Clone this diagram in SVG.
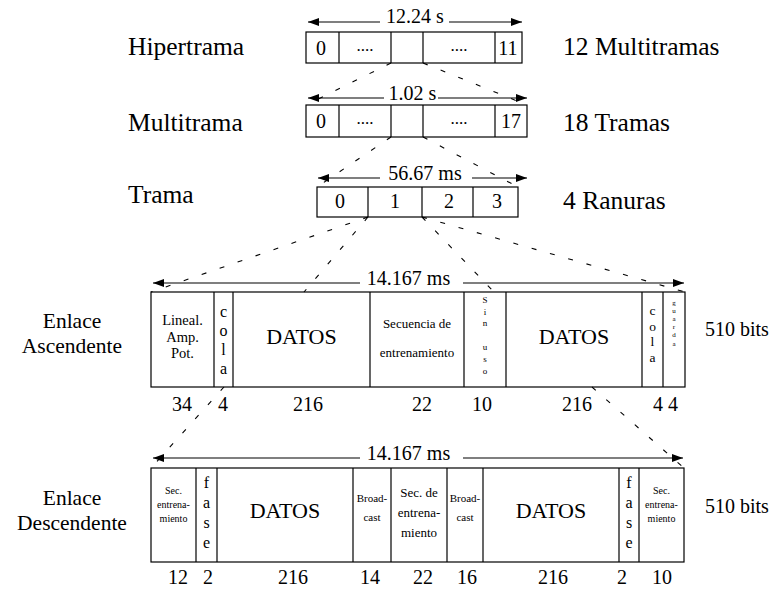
<svg xmlns="http://www.w3.org/2000/svg" width="776" height="590" viewBox="0 0 776 590">
<style>
text{font-family:"Liberation Serif","Times New Roman",serif;fill:#000}
.lbl{font-size:25.5px}
.m{text-anchor:middle}
.d{font-size:20px;text-anchor:middle}
.big{font-size:22px;text-anchor:middle}
.box{fill:#fff;stroke:#000;stroke-width:1.2}
.div{stroke:#000;stroke-width:1.2}
.arr{stroke:#000;stroke-width:1.2;fill:none}
.dash{stroke:#000;stroke-width:1.1;stroke-dasharray:5 14;fill:none}
</style>
<defs>
<marker id="ah" markerUnits="userSpaceOnUse" markerWidth="12" markerHeight="8" refX="11" refY="4" orient="auto-start-reverse">
<path d="M0,0 L11,4 L0,8 z" fill="#000"/>
</marker>
</defs>

<g id="labels">
<text class="lbl" x="128" y="55">Hipertrama</text>
<text class="lbl" x="128" y="131">Multitrama</text>
<text class="lbl" x="128" y="203">Trama</text>
<text class="lbl" x="563" y="55">12 Multitramas</text>
<text class="lbl" x="563" y="131">18 Tramas</text>
<text class="lbl" x="563" y="209">4 Ranuras</text>
<text class="m" style="font-size:21.5px" x="72" y="328">Enlace</text>
<text class="m" style="font-size:21.5px" x="72" y="353">Ascendente</text>
<text class="m" style="font-size:21.5px" x="72" y="505">Enlace</text>
<text class="m" style="font-size:21.5px" x="72" y="530">Descendente</text>
<text style="font-size:20px" x="705" y="336">510 bits</text>
<text style="font-size:20px" x="705" y="513">510 bits</text>
</g>

<g id="hipertrama">
<rect class="box" x="306" y="32" width="216" height="31"/>
<line class="div" x1="339" y1="32" x2="339" y2="63"/>
<line class="div" x1="391" y1="32" x2="391" y2="63"/>
<line class="div" x1="423" y1="32" x2="423" y2="63"/>
<line class="div" x1="495" y1="32" x2="495" y2="63"/>
<text class="d" x="321" y="55">0</text>
<text class="d" style="font-size:17px" x="365" y="51">....</text>
<text class="d" style="font-size:17px" x="459" y="51">....</text>
<text class="d" x="508" y="55">11</text>
<line class="arr" x1="308" y1="22" x2="380" y2="22" marker-start="url(#ah)"/>
<text class="d" x="415" y="23">12.24 s</text>
<line class="arr" x1="449" y1="22" x2="522" y2="22" marker-end="url(#ah)"/>
</g>

<g id="multitrama">
<rect class="box" x="306" y="105" width="221" height="32"/>
<line class="div" x1="339" y1="105" x2="339" y2="137"/>
<line class="div" x1="391" y1="105" x2="391" y2="137"/>
<line class="div" x1="423" y1="105" x2="423" y2="137"/>
<line class="div" x1="495" y1="105" x2="495" y2="137"/>
<text class="d" x="321" y="128">0</text>
<text class="d" style="font-size:17px" x="365" y="124">....</text>
<text class="d" style="font-size:17px" x="459" y="124">....</text>
<text class="d" x="511" y="128">17</text>
<line class="arr" x1="308" y1="98" x2="384" y2="98" marker-start="url(#ah)"/>
<text class="d" x="412.5" y="100">1.02 s</text>
<line class="arr" x1="438" y1="98" x2="527" y2="98" marker-end="url(#ah)"/>
</g>

<g id="trama">
<rect class="box" x="317" y="187" width="201" height="30"/>
<line class="div" x1="368" y1="187" x2="368" y2="217"/>
<line class="div" x1="422" y1="187" x2="422" y2="217"/>
<line class="div" x1="473" y1="187" x2="473" y2="217"/>
<text class="d" x="340" y="208">0</text>
<text class="d" x="395" y="208">1</text>
<text class="d" x="449" y="208">2</text>
<text class="d" x="497" y="208">3</text>
<line class="arr" x1="318" y1="178" x2="380" y2="178" marker-start="url(#ah)"/>
<text class="d" x="425" y="180">56.67 ms</text>
<line class="arr" x1="472" y1="178" x2="527" y2="178" marker-end="url(#ah)"/>
</g>

<g id="uplink">
<rect class="box" x="151" y="292" width="534" height="95"/>
<line class="div" x1="214" y1="292" x2="214" y2="387"/>
<line class="div" x1="233" y1="292" x2="233" y2="387"/>
<line class="div" x1="370" y1="292" x2="370" y2="387"/>
<line class="div" x1="464" y1="292" x2="464" y2="387"/>
<line class="div" x1="506" y1="292" x2="506" y2="387"/>
<line class="div" x1="642" y1="292" x2="642" y2="387"/>
<line class="div" x1="663" y1="292" x2="663" y2="387"/>
<line class="arr" x1="153" y1="283" x2="360" y2="283" marker-start="url(#ah)"/>
<text class="d" x="408.5" y="285">14.167 ms</text>
<line class="arr" x1="463" y1="283" x2="684" y2="283" marker-end="url(#ah)"/>
<text class="m" style="font-size:14.5px" x="182.5" y="325">Lineal.</text>
<text class="m" style="font-size:14.5px" x="182.5" y="341.5">Amp.</text>
<text class="m" style="font-size:14.5px" x="182.5" y="358">Pot.</text>
<text class="m" style="font-size:16px" x="223.5" y="317"><tspan x="223.5">c</tspan><tspan x="223.5" dy="19">o</tspan><tspan x="223.5" dy="19">l</tspan><tspan x="223.5" dy="19">a</tspan></text>
<text class="big" x="301.5" y="344">DATOS</text>
<text class="m" style="font-size:13px" x="417" y="328">Secuencia de</text>
<text class="m" style="font-size:13px" x="417" y="357">entrenamiento</text>
<text class="m" style="font-size:9px" x="485" y="303"><tspan x="485">S</tspan><tspan x="485" dy="12">i</tspan><tspan x="485" dy="11">n</tspan><tspan x="485" dy="24">u</tspan><tspan x="485" dy="12">s</tspan><tspan x="485" dy="12">o</tspan></text>
<text class="big" x="574" y="344">DATOS</text>
<text class="m" style="font-size:13.5px" x="652.5" y="315"><tspan x="652.5">c</tspan><tspan x="652.5" dy="15.6">o</tspan><tspan x="652.5" dy="15.6">l</tspan><tspan x="652.5" dy="15.6">a</tspan></text>
<text class="m" style="font-size:7px" x="674" y="305"><tspan x="674">g</tspan><tspan x="674" dy="8.1">u</tspan><tspan x="674" dy="8.1">a</tspan><tspan x="674" dy="8.1">r</tspan><tspan x="674" dy="8.1">d</tspan><tspan x="674" dy="8.1">a</tspan></text>
<text class="d" x="182" y="411">34</text>
<text class="d" x="223" y="411">4</text>
<text class="d" x="308" y="411">216</text>
<text class="d" x="422" y="411">22</text>
<text class="d" x="482" y="411">10</text>
<text class="d" x="577" y="411">216</text>
<text class="d" x="658" y="411">4</text>
<text class="d" x="673" y="411">4</text>
</g>

<g id="downlink">
<rect class="box" x="151" y="468" width="533" height="94"/>
<line class="div" x1="196" y1="468" x2="196" y2="562"/>
<line class="div" x1="217" y1="468" x2="217" y2="562"/>
<line class="div" x1="353" y1="468" x2="353" y2="562"/>
<line class="div" x1="391" y1="468" x2="391" y2="562"/>
<line class="div" x1="447" y1="468" x2="447" y2="562"/>
<line class="div" x1="483" y1="468" x2="483" y2="562"/>
<line class="div" x1="619" y1="468" x2="619" y2="562"/>
<line class="div" x1="639" y1="468" x2="639" y2="562"/>
<line class="arr" x1="153" y1="458" x2="360" y2="458" marker-start="url(#ah)"/>
<text class="d" x="408.5" y="460">14.167 ms</text>
<line class="arr" x1="463" y1="458" x2="683" y2="458" marker-end="url(#ah)"/>
<text class="m" style="font-size:10px" x="173.5" y="494">Sec.</text>
<text class="m" style="font-size:10px" x="173.5" y="508">entrena-</text>
<text class="m" style="font-size:10px" x="173.5" y="522">miento</text>
<text class="m" style="font-size:16px" x="206.5" y="488"><tspan x="206.5">f</tspan><tspan x="206.5" dy="19.5">a</tspan><tspan x="206.5" dy="20">s</tspan><tspan x="206.5" dy="20">e</tspan></text>
<text class="big" x="285" y="518">DATOS</text>
<text class="m" style="font-size:11px" x="372" y="502">Broad-</text>
<text class="m" style="font-size:11px" x="372" y="521">cast</text>
<text class="m" style="font-size:13px" x="419" y="497">Sec. de</text>
<text class="m" style="font-size:13px" x="419" y="517">entrena-</text>
<text class="m" style="font-size:13px" x="419" y="537">miento</text>
<text class="m" style="font-size:11px" x="465" y="502">Broad-</text>
<text class="m" style="font-size:11px" x="465" y="521">cast</text>
<text class="big" x="551" y="518">DATOS</text>
<text class="m" style="font-size:16px" x="629" y="488"><tspan x="629">f</tspan><tspan x="629" dy="19.5">a</tspan><tspan x="629" dy="20">s</tspan><tspan x="629" dy="20">e</tspan></text>
<text class="m" style="font-size:10px" x="661.5" y="494">Sec.</text>
<text class="m" style="font-size:10px" x="661.5" y="508">entrena-</text>
<text class="m" style="font-size:10px" x="661.5" y="522">miento</text>
<text class="d" x="178" y="584">12</text>
<text class="d" x="208" y="584">2</text>
<text class="d" x="293" y="584">216</text>
<text class="d" x="370" y="584">14</text>
<text class="d" x="423" y="584">22</text>
<text class="d" x="467" y="584">16</text>
<text class="d" x="553" y="584">216</text>
<text class="d" x="622" y="584">2</text>
<text class="d" x="662" y="584">10</text>
</g>

<g id="connectors">
<line class="dash" x1="391" y1="63" x2="306" y2="105"/>
<line class="dash" x1="423" y1="63" x2="527" y2="105"/>
<line class="dash" x1="391" y1="137" x2="317" y2="187"/>
<line class="dash" x1="423" y1="137" x2="518" y2="187"/>
<line class="dash" x1="368" y1="217" x2="151" y2="292"/>
<line class="dash" x1="368" y1="217" x2="304" y2="292"/>
<line class="dash" x1="422" y1="217" x2="685" y2="292"/>
<line class="dash" x1="422" y1="217" x2="494" y2="292"/>
<line class="dash" x1="224" y1="387" x2="151" y2="468"/>
<line class="dash" x1="592" y1="387" x2="684" y2="468"/>
</g>
</svg>
